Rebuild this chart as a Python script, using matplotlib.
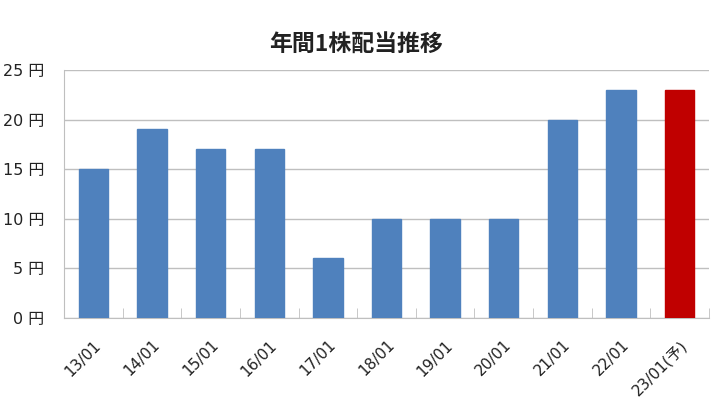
import matplotlib
matplotlib.use("Agg")
import matplotlib.pyplot as plt
from matplotlib.ticker import FixedLocator

plt.rcParams['font.family'] = ['DejaVu Sans', 'Noto Sans CJK JP']

# Data
periods = ['13/01', '14/01', '15/01', '16/01', '17/01', '18/01',
           '19/01', '20/01', '21/01', '22/01', '23/01(予)']
dividends = [15, 19, 17, 17, 6, 10, 10, 10, 20, 23, 23]
colors = ['#4F81BD'] * 10 + ['#C00000']
yticks = [0, 5, 10, 15, 20, 25]

fig = plt.figure(figsize=(7.15, 4.16), dpi=100)
ax = fig.add_axes([0.0895, 0.2356, 0.9021, 0.5964])

x = list(range(len(periods)))
ax.bar(x, dividends, width=0.5, color=colors, edgecolor=colors, zorder=3)

ax.set_xlim(-0.5, len(periods) - 0.5)
ax.set_ylim(0, 25)
ax.set_yticks(yticks)
ax.set_yticklabels([f'{v} 円' for v in yticks], fontsize=11.5, color='#222222')
ax.yaxis.grid(True, color='#BFBFBF', linewidth=1, zorder=0)
ax.tick_params(axis='y', length=0, pad=14)

ax.set_xticks(x)
ax.set_xticklabels(periods, rotation=45, ha='right', rotation_mode='anchor',
                   fontsize=11, color='#222222')
ax.tick_params(axis='x', which='major', length=0, pad=14)
ax.xaxis.set_minor_locator(FixedLocator([i + 0.5 for i in range(-1, len(periods))]))
ax.tick_params(axis='x', which='minor', direction='in', length=7, color='#BFBFBF')

for s in ['top', 'right']:
    ax.spines[s].set_visible(False)
ax.spines['left'].set_color('#BFBFBF')
ax.spines['bottom'].set_color('#BFBFBF')

fig.text(0.498, 0.893, '年間1株配当推移', ha='center', va='center',
         fontsize=16.5, fontweight='bold', color='#222222',
         family=['Noto Sans CJK JP', 'DejaVu Sans'])

fig.savefig('out.png', dpi=100)
